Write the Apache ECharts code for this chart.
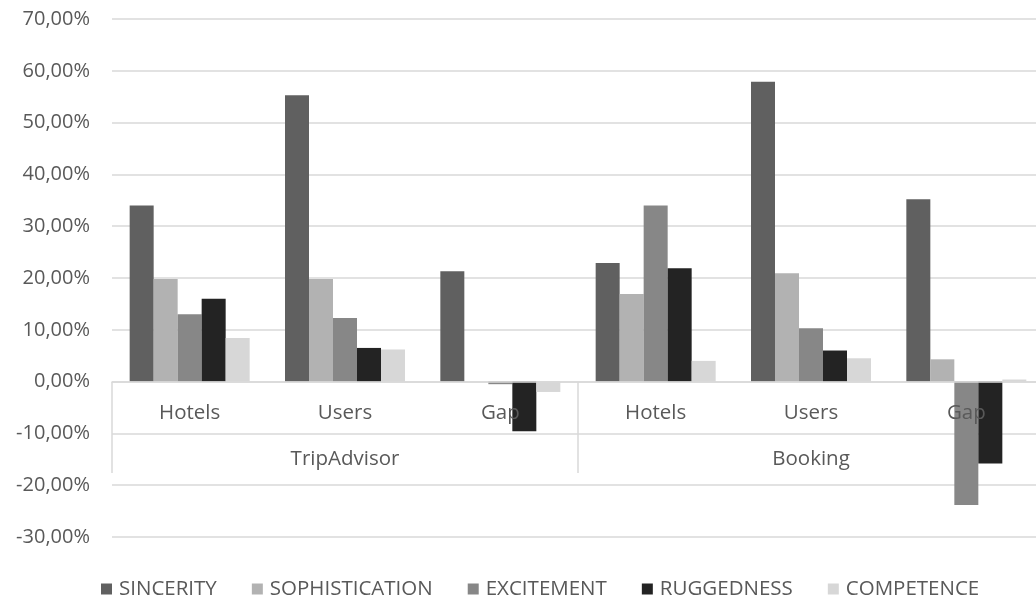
<!DOCTYPE html>
<html>
<head>
<meta charset="utf-8">
<script src="https://cdn.jsdelivr.net/npm/echarts@6.0.0/dist/echarts.min.js"></script>
<style>
  html, body { margin: 0; padding: 0; background: #fff; }
  #chart { width: 1036px; height: 605px; }
</style>
</head>
<body>
<div id="chart"></div>
<script>
// ---- data (percent) ----
const subCategories = ['Hotels', 'Users', 'Gap', 'Hotels', 'Users', 'Gap'];
const groupCategories = ['TripAdvisor', 'Booking'];
const seriesNames = ['SINCERITY', 'SOPHISTICATION', 'EXCITEMENT', 'RUGGEDNESS', 'COMPETENCE'];
const sincerity      = [34.0, 55.3, 21.3, 22.9, 57.9, 35.2];
const sophistication = [19.8, 19.8, 0.0, 16.9, 20.9, 4.3];
const excitement     = [13.0, 12.3, -0.5, 34.0, 10.3, -23.8];
const ruggedness     = [16.0, 6.5, -9.6, 21.9, 6.0, -15.8];
const competence     = [8.4, 6.2, -2.0, 4.0, 4.5, 0.4];
const yMin = -30, yMax = 70, yStep = 10;

const seriesData = [sincerity, sophistication, excitement, ruggedness, competence];
const colors = ['#606060', '#b2b2b2', '#878787', '#232323', '#d7d7d7'];
const textColor = '#595959';
const lineColor = '#d9d9d9';
const fontFamily = '"Open Sans", "Noto Sans", sans-serif';

const chart = echarts.init(document.getElementById('chart'), null, { renderer: 'canvas' });

// plot geometry
const plotLeft = 112, plotRight = -8, plotTop = 19, plotBottom = 68;
const plotHeight = 605 - plotTop - plotBottom;
const zeroFrac = yMax / (yMax - yMin);
const labelGridHeight = Math.round(plotHeight * zeroFrac);

const gridBase = { left: plotLeft, right: plotRight, top: plotTop, containLabel: false, outerBoundsMode: 'none' };

const option = {
  animation: false,
  color: colors,
  textStyle: { fontFamily: fontFamily },
  grid: [
    Object.assign({}, gridBase, { bottom: plotBottom }),
    Object.assign({}, gridBase, { height: labelGridHeight }),
    Object.assign({}, gridBase, { height: labelGridHeight })
  ],
  legend: {
    data: seriesNames,
    left: 101,
    top: 578,
    padding: 0,
    icon: 'rect',
    itemWidth: 11,
    itemHeight: 11,
    itemGap: 35,
    textStyle: { fontSize: 20.5, color: textColor, fontFamily: fontFamily, padding: [0, 0, 0, 2], lineHeight: 22 }
  },
  xAxis: [
    {
      type: 'category',
      gridIndex: 0,
      data: subCategories,
      position: 'bottom',
      axisLine: { show: false },
      axisTick: { show: false },
      axisLabel: { show: false },
      splitLine: { show: false }
    },
    {
      type: 'category',
      gridIndex: 1,
      data: subCategories,
      position: 'bottom',
      z: 10,
      axisLine: { show: true, onZero: false, lineStyle: { color: lineColor, width: 1.5 } },
      axisTick: { show: false },
      axisLabel: { interval: 0, margin: 21, fontSize: 20.5, color: textColor, fontFamily: fontFamily },
      splitLine: { show: false }
    },
    {
      type: 'category',
      gridIndex: 2,
      data: groupCategories,
      position: 'bottom',
      z: 10,
      axisLine: { show: false, onZero: false },
      axisTick: { show: true, interval: 0, alignWithLabel: false, length: 91, lineStyle: { color: lineColor, width: 1.5 } },
      axisLabel: { interval: 0, margin: 67, fontSize: 20.5, color: textColor, fontFamily: fontFamily },
      splitLine: { show: false }
    }
  ],
  yAxis: [
    {
      type: 'value',
      gridIndex: 0,
      min: yMin,
      max: yMax,
      interval: yStep,
      axisLine: { show: false },
      axisTick: { show: false },
      axisLabel: {
        margin: 22,
        fontSize: 20,
        color: textColor,
        fontFamily: fontFamily,
        formatter: function (v) {
          const r = Math.round(v * 100) / 100;
          return (r === 0 ? 0 : r).toFixed(2).replace('.', ',') + '%';
        }
      },
      splitLine: { show: true, lineStyle: { color: lineColor, width: 1.5 } }
    },
    { type: 'value', gridIndex: 1, show: false, min: 0, max: 1 },
    { type: 'value', gridIndex: 2, show: false, min: 0, max: 1 }
  ],
  series: seriesNames.map(function (name, i) {
    return {
      name: name,
      type: 'bar',
      xAxisIndex: 0,
      yAxisIndex: 0,
      z: 5,
      data: seriesData[i],
      barWidth: 24,
      barGap: '0%',
      itemStyle: { color: colors[i] }
    };
  })
};

chart.setOption(option);
</script>
</body>
</html>
